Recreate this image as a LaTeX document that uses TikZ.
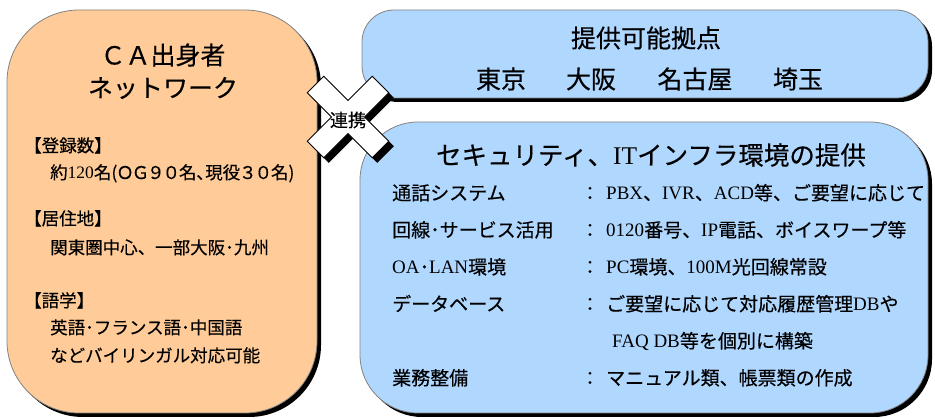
\documentclass[tikz,border=0pt]{standalone}
\usepackage{fontspec}
\usepackage{graphicx}
\setmainfont{Noto Sans CJK JP}[FakeBold=0.35]
\newfontfamily\latserif{Liberation Serif}
\newcommand\lat[1]{{\latserif #1}}
\newcommand\fwc[1]{\makebox[0.88em]{#1}}
\usetikzlibrary{shadows}
\definecolor{boxorange}{RGB}{255,204,153}
\definecolor{boxblue}{RGB}{176,216,255}
\definecolor{edgegray}{RGB}{130,130,130}
\begin{document}
\begin{tikzpicture}[x=1pt,y=-1pt,
  panel/.style={draw=edgegray, line width=0.8pt, inner sep=0pt, outer sep=0pt,
     drop shadow={shadow xshift=4pt, shadow yshift=-4pt, fill=black, opacity=1}},
  bigtext/.style={font=\fontsize{25pt}{30pt}\selectfont, inner sep=0pt},
  itemtext/.style={font=\fontsize{17.5pt}{21pt}\selectfont, anchor=base west, inner sep=0pt},
  rowtext/.style={font=\fontsize{19pt}{22pt}\selectfont, anchor=base west, inner sep=0pt},
  colontext/.style={font=\fontsize{19pt}{22pt}\selectfont, anchor=base, inner sep=0pt},
  linktext/.style={font=\fontsize{18pt}{20pt}\selectfont, inner sep=0pt}
]
\useasboundingbox (0,0) rectangle (935,419);
% panels
\node[panel, fill=boxorange, rounded corners=72pt, minimum width=310pt, minimum height=403pt] (net) at (162,211.5) {};
\node[panel, fill=boxblue, rounded corners=32pt, minimum width=566pt, minimum height=88pt] (base) at (645,54) {};
\node[panel, fill=boxblue, rounded corners=58pt, minimum width=568pt, minimum height=291pt] (infra) at (644,267.5) {};
% left panel text
\node[bigtext] (nt1) at (163,55) {ＣＡ出身者};
\node[bigtext] (nt2) at (163,88) {ネットワーク};
\node[itemtext] (h1) at (24,152) {【登録数】};
\node[itemtext] (i1) at (50,179) {約\lat{120}名(\fwc{Ｏ}\fwc{Ｇ}\fwc{９}\fwc{０}名{\addfontfeatures{RawFeature=+palt}、}現役\fwc{３}\fwc{０}名)};
\node[itemtext] (h2) at (24,225) {【居住地】};
\node[itemtext] (i2) at (50,254) {関東圏中心、一部大阪･九州};
\node[itemtext] (h3) at (24,307) {【語学】};
\node[itemtext] (i3) at (50,334) {英語･フランス語･中国語};
\node[itemtext] (i4) at (50,362) {などバイリンガル対応可能};
% top right text
\node[bigtext] (bt) at (646,38) {提供可能拠点};
\node[bigtext] (c1) at (501,79) {東京};
\node[bigtext] (c2) at (591,79) {大阪};
\node[bigtext] (c3) at (695,79) {名古屋};
\node[bigtext] (c4) at (798,79) {埼玉};
% bottom right text
\node[bigtext, font=\fontsize{25.5pt}{30pt}\selectfont] (it) at (651,155) {セキュリティ、\lat{IT}インフラ環境の提供};
\node[rowtext] (r1l) at (392,200) {通話システム};
\node[colontext] (r1c) at (590,200) {：};
\node[rowtext] (r1r) at (606,200) {\lat{PBX}、\lat{IVR}、\lat{ACD}等、ご要望に応じて};
\node[rowtext] (r2l) at (392,237) {回線･サービス活用};
\node[colontext] (r2c) at (590,237) {：};
\node[rowtext] (r2r) at (606,237) {\lat{0120}番号、\lat{IP}電話、ボイスワープ等};
\node[rowtext] (r3l) at (392,274) {\lat{OA}･\lat{LAN}環境};
\node[colontext] (r3c) at (590,274) {：};
\node[rowtext] (r3r) at (606,274) {\lat{PC}環境、\lat{100M}光回線常設};
\node[rowtext] (r4l) at (392,311) {データベース};
\node[colontext] (r4c) at (590,311) {：};
\node[rowtext] (r4r) at (606,311) {ご要望に応じて対応履歴管理\lat{DB}や};
\node[rowtext] (r5r) at (612,348) {\lat{FAQ DB}等を個別に構築};
\node[rowtext] (r6l) at (392,385) {業務整備};
\node[colontext] (r6c) at (590,385) {：};
\node[rowtext] (r6r) at (606,385) {マニュアル類、帳票類の作成};
% link cross
\fill[black, shift={(353,122)}, rotate=45] (46,-11.7) -- (46,11.7) -- (11.7,11.7) -- (11.7,46) -- (-11.7,46) -- (-11.7,11.7) -- (-46,11.7) -- (-46,-11.7) -- (-11.7,-11.7) -- (-11.7,-46) -- (11.7,-46) -- (11.7,-11.7) -- cycle;
\filldraw[fill=white, draw=black, line width=0.8pt, shift={(348,117)}, rotate=45] (46,-11.7) -- (46,11.7) -- (11.7,11.7) -- (11.7,46) -- (-11.7,46) -- (-11.7,11.7) -- (-46,11.7) -- (-46,-11.7) -- (-11.7,-11.7) -- (-11.7,-46) -- (11.7,-46) -- (11.7,-11.7) -- cycle;
\node[linktext] (link) at (348,120) {連携};
\end{tikzpicture}
\end{document}
